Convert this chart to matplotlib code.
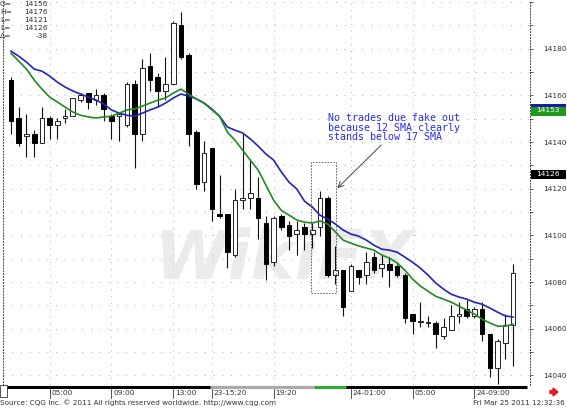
import matplotlib
matplotlib.use("Agg")
import matplotlib.pyplot as plt
from matplotlib.patches import Rectangle, FancyArrow
import numpy as np

# candles (30 min bars), oldest first
opens = [14166.7, 14150.2, 14142.4, 14143.4, 14139.5, 14150.2, 14147.2, 14150.2, 14151.2, 14158.0,
         14160.9, 14158.0, 14160.0, 14151.2, 14151.2, 14147.2, 14164.8, 14143.4, 14172.6, 14167.7,
         14161.9, 14164.8, 14190.1, 14177.4, 14144.3, 14122.9, 14137.5, 14109.3, 14109.3, 14091.8,
         14115.1, 14116.1, 14116.1, 14105.4, 14088.8, 14108.3, 14104.4, 14100.5, 14103.4, 14100.5,
         14103.4, 14116.1, 14083.0, 14085.0, 14076.2, 14085.0, 14083.0, 14090.8, 14085.9, 14087.9,
         14086.9, 14083.0, 14066.5, 14063.0, 14062.6, 14062.6, 14056.7, 14059.6, 14065.5, 14068.4,
         14065.5, 14068.4, 14057.7, 14043.0, 14053.8, 14061.6]
closes = [14149.2, 14139.5, 14143.4, 14139.5, 14150.2, 14147.2, 14149.2, 14151.2, 14159.0, 14160.0,
          14157.0, 14160.0, 14154.1, 14149.2, 14152.1, 14164.8, 14143.4, 14171.6, 14166.7, 14161.9,
          14164.8, 14191.1, 14176.5, 14143.4, 14122.0, 14135.5, 14111.2, 14108.3, 14092.7, 14115.1,
          14116.1, 14118.0, 14107.3, 14087.9, 14107.3, 14103.4, 14099.6, 14102.5, 14100.5, 14102.5,
          14116.1, 14083.0, 14085.0, 14069.4, 14086.9, 14082.0, 14088.8, 14085.0, 14087.9, 14085.0,
          14083.0, 14064.5, 14063.5, 14063.5, 14062.9, 14057.7, 14060.6, 14065.5, 14066.5, 14065.5,
          14068.4, 14057.7, 14043.0, 14054.8, 14061.6, 14084.0]
highs = [14167.7, 14155.1, 14152.1, 14145.3, 14155.1, 14151.2, 14150.2, 14154.1, 14159.0, 14160.9,
         14160.9, 14162.9, 14160.9, 14152.1, 14153.1, 14165.8, 14166.7, 14175.5, 14178.4, 14169.7,
         14176.5, 14192.1, 14195.9, 14178.4, 14145.3, 14140.5, 14137.5, 14125.8, 14109.3, 14120.0,
         14143.4, 14132.6, 14124.9, 14108.3, 14108.3, 14109.3, 14106.4, 14106.4, 14105.4, 14105.4,
         14119.0, 14117.1, 14095.6, 14085.0, 14087.9, 14085.0, 14092.7, 14092.7, 14091.8, 14090.8,
         14087.9, 14084.0, 14066.5, 14071.3, 14065.5, 14063.5, 14064.5, 14070.3, 14071.3, 14072.3,
         14069.4, 14071.3, 14057.7, 14055.7, 14066.5, 14087.9]
lows = [14143.4, 14138.5, 14133.6, 14133.6, 14139.5, 14141.4, 14141.4, 14148.2, 14151.2, 14157.0,
        14154.1, 14156.0, 14149.2, 14141.4, 14140.4, 14146.3, 14128.7, 14140.5, 14161.9, 14155.1,
        14158.0, 14164.8, 14175.5, 14138.5, 14120.0, 14119.0, 14106.4, 14107.3, 14085.9, 14090.8,
        14111.2, 14111.2, 14098.6, 14081.1, 14086.9, 14102.5, 14093.7, 14091.7, 14093.7, 14094.7,
        14099.6, 14082.0, 14079.1, 14065.5, 14076.2, 14079.1, 14079.1, 14084.0, 14082.0, 14078.1,
        14082.0, 14062.6, 14057.7, 14060.6, 14060.6, 14051.8, 14055.7, 14059.6, 14062.6, 14064.5,
        14064.5, 14054.8, 14039.2, 14036.3, 14047.0, 14044.0]

# moving averages (blue 17 SMA, green 12 SMA), read at each bar
sma17 = [14179.0, 14176.8, 14174.3, 14171.3, 14170.4, 14168.3, 14165.7, 14163.6, 14161.9, 14160.6,
         14159.3, 14158.0, 14156.3, 14153.8, 14152.4, 14151.5, 14151.1, 14152.4, 14153.8, 14155.0,
         14156.7, 14158.9, 14160.6, 14159.7, 14158.5, 14156.7, 14154.2, 14151.1, 14146.5, 14145.1,
         14143.9, 14141.3, 14138.3, 14134.9, 14132.3, 14127.2, 14122.8, 14119.9, 14114.7, 14112.2,
         14108.7, 14107.0, 14104.9, 14102.3, 14100.6, 14099.7, 14098.0, 14095.8, 14094.1, 14093.7,
         14092.8, 14090.7, 14088.5, 14086.0, 14083.0, 14079.6, 14077.0, 14074.8, 14073.6, 14072.7,
         14071.4, 14070.5, 14068.9, 14067.1, 14065.5, 14065.0]
sma12 = [14178.1, 14174.7, 14171.3, 14166.6, 14162.7, 14159.3, 14157.2, 14155.0, 14152.9, 14151.5,
         14150.8, 14150.3, 14150.8, 14151.1, 14152.4, 14153.8, 14154.2, 14155.4, 14156.7, 14158.0,
         14158.9, 14161.0, 14162.7, 14160.6, 14158.5, 14156.7, 14153.8, 14151.1, 14144.3, 14140.8,
         14136.5, 14132.2, 14128.0, 14121.6, 14115.1, 14110.7, 14108.7, 14106.6, 14105.7, 14105.3,
         14106.2, 14104.9, 14101.5, 14098.0, 14096.7, 14095.5, 14094.6, 14093.7, 14091.6, 14090.3,
         14088.2, 14085.1, 14081.3, 14078.3, 14076.1, 14073.9, 14072.7, 14071.4, 14069.7, 14068.0,
         14066.3, 14064.1, 14062.5, 14061.1, 14061.1, 14062.0]

time_ticks = [5, 13, 21, 26, 34, 44, 52, 60]
time_labels = ["05:00", "09:00", "13:00", "23-15:20", "19:20", "24-01:00", "05:00", "24-09:00"]
price_ticks = list(range(14040, 14201, 10))
price_labels = [str(p) for p in range(14040, 14181, 20)]

W, H = 567, 409
fig = plt.figure(figsize=(W / 100, H / 100), dpi=100)
fig.patch.set_facecolor("white")


def fx(x):
    return x / W


def fy(y):
    return 1 - y / H


ax = fig.add_axes([fx(3), fy(385), fx(527), 385 / H])
ax.set_xlim(-1.04, 67.2)
ax.set_ylim(14035.9, 14200.9)

for s in ["top", "bottom"]:
    ax.spines[s].set_visible(False)
for s in ["left", "right"]:
    ax.spines[s].set_linestyle((0, (1, 2)))
    ax.spines[s].set_linewidth(0.7)
    ax.spines[s].set_color("#444444")

# dotted grid
for p in price_ticks:
    ax.axhline(p, color="#b0b0b0", lw=0.7, ls=(0, (1, 8)), zorder=0)
for t in time_ticks:
    ax.axvline(t, color="#b0b0b0", lw=0.7, ls=(0, (1, 6)), zorder=0)

ax.set_xticks([])
ax.yaxis.tick_right()
ax.set_yticks(price_ticks)
ax.set_yticklabels([str(p) if str(p) in price_labels else "" for p in price_ticks])
ax.tick_params(axis="y", length=2.5, width=0.6, color="#444444", pad=7,
               labelsize=5.4, labelcolor="#333333")

# watermark
ax.text(35.5, 14089.5, "WikiFX", fontsize=48, fontweight="bold", fontstyle="italic",
        color="#d4d4d4", alpha=0.45, ha="center", va="center", zorder=1)

# candles
idx = np.arange(len(opens))
o = np.array(opens)
c = np.array(closes)
ax.vlines(idx, lows, highs, color="#111111", lw=0.8, zorder=3)
up = c >= o
bot = np.minimum(o, c)
hgt = np.maximum(np.abs(c - o), 0.5)
ax.bar(idx[up], hgt[up], bottom=bot[up], width=0.6, color="white",
       edgecolor="#222222", linewidth=0.7, zorder=4)
ax.bar(idx[~up], hgt[~up], bottom=bot[~up], width=0.6, color="black",
       edgecolor="black", linewidth=0.7, zorder=4)

ax.plot(idx, sma17, color="#2222bb", lw=1.2, zorder=5)
ax.plot(idx, sma12, color="#228822", lw=1.2, zorder=5)

# annotation
ax.add_patch(Rectangle((38.9, 14075.3), 3.2, 56.1, fill=False, ls=(0, (2, 1.5)),
                       lw=0.6, edgecolor="#555555", zorder=6))
ax.text(41.0, 14152.4, "No trades due fake out\nbecause 12 SMA clearly\nstands below 17 SMA",
        family="DejaVu Sans Mono", fontsize=7.2, color="#2a2aee", ha="left", va="top",
        linespacing=0.95, zorder=7)
ax.annotate("", xy=(42.0, 14119.4), xytext=(48.2, 14139.6),
            arrowprops=dict(arrowstyle="->", color="#444444", lw=0.7), zorder=7)

# time axis band
tr = ax.get_xaxis_transform()
ax.plot([-0.5, 66.8], [-0.004, -0.004], transform=tr, color="black", lw=2.2,
        clip_on=False, solid_capstyle="butt")
ax.plot([25.8, 39.4], [-0.004, -0.004], transform=tr, color="#aaaaaa", lw=2.2,
        clip_on=False, solid_capstyle="butt")
ax.plot([39.4, 43.4], [-0.004, -0.004], transform=tr, color="#33aa33", lw=2.2,
        clip_on=False, solid_capstyle="butt")
for t, lab in zip(time_ticks, time_labels):
    ax.plot([t, t], [-0.01, -0.033], transform=tr, color="#333333", lw=0.6, clip_on=False)
    ax.text(t + 0.25, -0.021, lab, transform=tr, fontsize=5.4, color="#333333",
            ha="left", va="center")

fig.patches.append(Rectangle((fx(0), fy(397)), fx(7), 12 / H, transform=fig.transFigure,
                             fill=False, edgecolor="#333333", lw=0.6))

# price tags
fig.patches.append(Rectangle((fx(531), fy(116)), fx(35), 12 / H, transform=fig.transFigure,
                             facecolor="#1f9a1f", edgecolor="none"))
fig.patches.append(Rectangle((fx(531), fy(107)), fx(35), 3 / H, transform=fig.transFigure,
                             facecolor="#1a1aa8", edgecolor="none"))
fig.text(fx(548), fy(110.5), "14153", fontsize=5.4, color="white", ha="center", va="center")
fig.patches.append(Rectangle((fx(531), fy(179)), fx(35), 9 / H, transform=fig.transFigure,
                             facecolor="black", edgecolor="none"))
fig.text(fx(548), fy(174.5), "14126", fontsize=5.4, color="white", ha="center", va="center")

# OHLC readout
ohlc_names = ["O=", "H=", "L=", "L=", "\u0394="]
ohlc_vals = ["14156", "14176", "14121", "14126", "-38"]
for k, (n, v) in enumerate(zip(ohlc_names, ohlc_vals)):
    fig.text(fx(0), fy(4 + 8 * k), n, fontsize=5.4, color="#333333", va="center")
    fig.text(fx(48), fy(4 + 8 * k), v, fontsize=5.4, color="#333333", va="center", ha="right")

# footer
fig.text(fx(0), fy(403), "Source: CQG Inc. \u00a9 2011 All rights reserved worldwide. http://www.cqg.com",
         fontsize=5.2, color="#333333", va="center")
fig.text(fx(565), fy(403), "Fri Mar 25 2011 12:32:36", fontsize=5.2, color="#333333",
         va="center", ha="right")
fig.patches.append(FancyArrow(fx(550), fy(392), fx(8), 0, width=3 / H, head_width=8 / H,
                              head_length=fx(5), length_includes_head=True,
                              transform=fig.transFigure, color="#e02020"))

fig.savefig("out.png", dpi=100)
